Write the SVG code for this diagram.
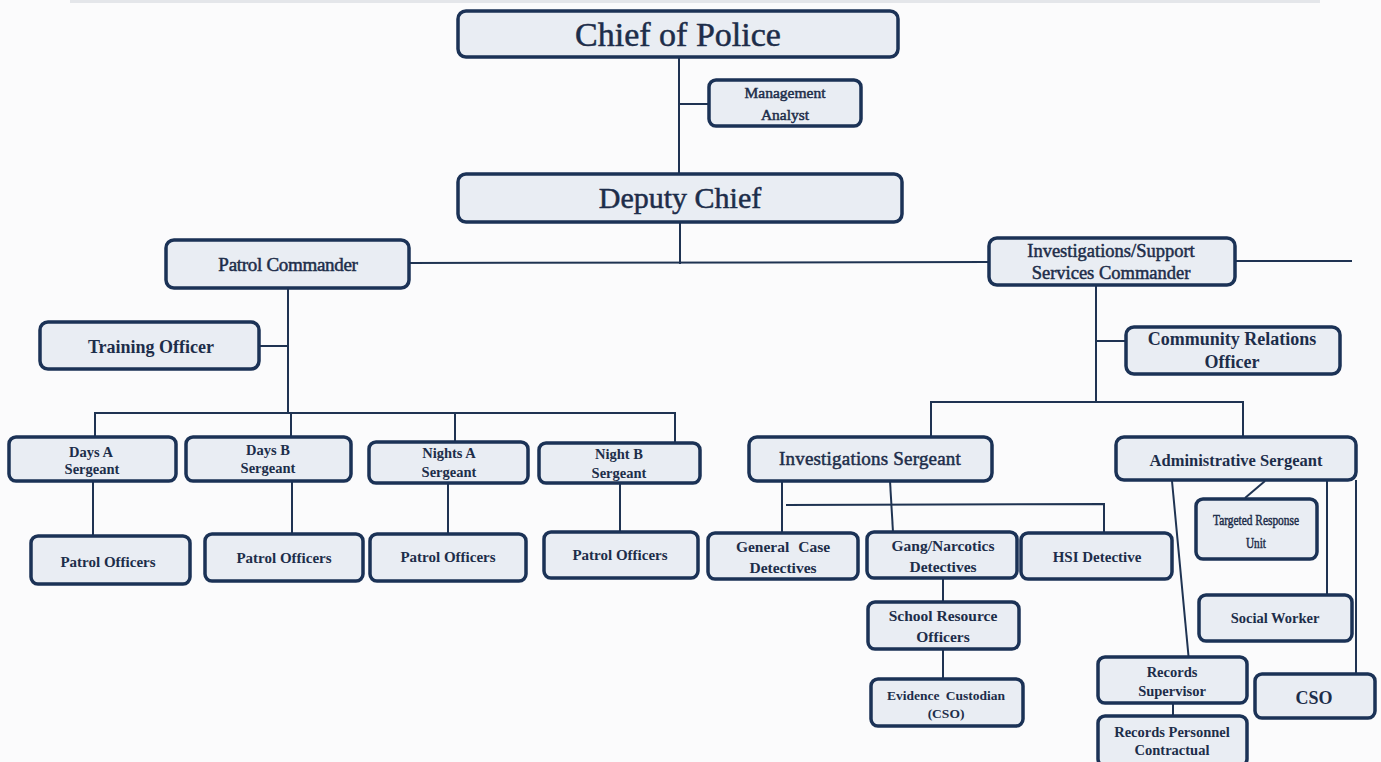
<svg xmlns="http://www.w3.org/2000/svg" width="1381" height="762" viewBox="0 0 1381 762">
<style>
.bx{fill:#e9edf3;stroke:#1b3256;stroke-width:3.5}
.t{font-family:"Liberation Serif","Times New Roman",serif;fill:#1d2d4a;text-anchor:middle}
.r{stroke:#1d2d4a;stroke-width:0.5}
.b{font-weight:bold}
.c line,.c polyline{stroke:#1f3352;stroke-width:2;fill:none}
</style>
<rect width="1381" height="762" fill="#fbfbfc"/>
<rect x="70" y="0" width="1250" height="3" fill="#e4e6ea"/>
<g class="c" id="connectors">
<line x1="679" y1="58" x2="679" y2="174"/>
<line x1="679" y1="104" x2="708" y2="104"/>
<line x1="680" y1="222" x2="680" y2="264"/>
<line x1="409" y1="263" x2="988" y2="262"/>
<line x1="1235" y1="261" x2="1352" y2="261"/>
<line x1="288" y1="288" x2="288" y2="413"/>
<line x1="259" y1="346" x2="289" y2="346"/>
<polyline points="95,437 95,413 675,413 675,442"/>
<line x1="291" y1="413" x2="291" y2="436"/>
<line x1="455" y1="413" x2="455" y2="441"/>
<line x1="93" y1="481" x2="93" y2="535"/>
<line x1="292" y1="481" x2="292" y2="533"/>
<line x1="448" y1="483" x2="448" y2="533"/>
<line x1="620" y1="483" x2="620" y2="531"/>
<line x1="1096" y1="285" x2="1096" y2="402"/>
<line x1="1096" y1="341" x2="1126" y2="341"/>
<polyline points="931,436 931,402 1243,402 1243,437"/>
<line x1="782" y1="481" x2="782" y2="533"/>
<line x1="890" y1="481" x2="893" y2="532"/>
<polyline points="786,505 1104,504 1104,532"/>
<line x1="943" y1="578" x2="943" y2="602"/>
<line x1="943" y1="649" x2="943" y2="678"/>
<line x1="1265" y1="481" x2="1245" y2="498"/>
<line x1="1327" y1="480" x2="1327" y2="594"/>
<line x1="1356" y1="480" x2="1356" y2="680"/>
<line x1="1172" y1="481" x2="1190" y2="672"/>
<line x1="1173" y1="703" x2="1173" y2="715"/>
</g>
<g id="chief"><rect class="bx" x="458" y="11" width="440" height="46" rx="8"/><text class="t r" x="678" y="46" font-size="34">Chief of Police</text></g>
<g id="analyst"><rect class="bx" x="709" y="80" width="152" height="46" rx="7"/><text class="t r" x="785" y="98" font-size="15.5">Management</text><text class="t r" x="785" y="120" font-size="15.5">Analyst</text></g>
<g id="deputy"><rect class="bx" x="458" y="174" width="444" height="48" rx="8"/><text class="t r" x="680" y="208" font-size="30">Deputy Chief</text></g>
<g id="patrolcmd"><rect class="bx" x="166" y="240" width="243" height="48" rx="8"/><text class="t r" x="288" y="271" font-size="19" letter-spacing="-0.3">Patrol Commander</text></g>
<g id="invcmd"><rect class="bx" x="989" y="238" width="246" height="47" rx="8"/><text class="t r" x="1111" y="257" font-size="18.5">Investigations/Support</text><text class="t r" x="1111" y="279" font-size="18.5">Services Commander</text></g>
<g id="training"><rect class="bx" x="40" y="322" width="219" height="47" rx="8"/><text class="t b" x="151" y="353" font-size="18">Training Officer</text></g>
<g id="community"><rect class="bx" x="1126" y="327" width="214" height="47" rx="8"/><text class="t b" x="1232" y="345" font-size="18">Community Relations</text><text class="t b" x="1232" y="368" font-size="18">Officer</text></g>
<g id="daysa"><rect class="bx" x="9" y="437" width="167" height="44" rx="7"/><text class="t b" x="91" y="457" font-size="14.5">Days A</text><text class="t b" x="92" y="474" font-size="14.5">Sergeant</text></g>
<g id="daysb"><rect class="bx" x="186" y="437" width="165" height="44" rx="7"/><text class="t b" x="268" y="455" font-size="14.5">Days B</text><text class="t b" x="268" y="473" font-size="14.5">Sergeant</text></g>
<g id="nightsa"><rect class="bx" x="369" y="442" width="159" height="41" rx="7"/><text class="t b" x="449" y="458" font-size="14.5">Nights A</text><text class="t b" x="449" y="477" font-size="14.5">Sergeant</text></g>
<g id="nightb"><rect class="bx" x="539" y="443" width="161" height="40" rx="7"/><text class="t b" x="619" y="459" font-size="14.5">Night B</text><text class="t b" x="619" y="478" font-size="14.5">Sergeant</text></g>
<g id="po1"><rect class="bx" x="31" y="536" width="159" height="48" rx="7"/><text class="t b" x="108" y="567" font-size="15">Patrol Officers</text></g>
<g id="po2"><rect class="bx" x="205" y="534" width="158" height="47" rx="7"/><text class="t b" x="284" y="563" font-size="15">Patrol Officers</text></g>
<g id="po3"><rect class="bx" x="370" y="534" width="156" height="47" rx="7"/><text class="t b" x="448" y="562" font-size="15">Patrol Officers</text></g>
<g id="po4"><rect class="bx" x="544" y="532" width="154" height="46" rx="7"/><text class="t b" x="620" y="560" font-size="15">Patrol Officers</text></g>
<g id="invsgt"><rect class="bx" x="749" y="437" width="243" height="44" rx="8"/><text class="t r" x="870" y="465" font-size="19" letter-spacing="0.2">Investigations Sergeant</text></g>
<g id="adminsgt"><rect class="bx" x="1116" y="437" width="240" height="43" rx="8"/><text class="t b" x="1236" y="466" font-size="16.5">Administrative Sergeant</text></g>
<g id="general"><rect class="bx" x="708" y="533" width="150" height="46" rx="7"/><text class="t b" x="783" y="552" font-size="15.5" word-spacing="5">General Case</text><text class="t b" x="783" y="573" font-size="15.5">Detectives</text></g>
<g id="gang"><rect class="bx" x="867" y="532" width="150" height="46" rx="7"/><text class="t b" x="943" y="551" font-size="15.5">Gang/Narcotics</text><text class="t b" x="943" y="572" font-size="15.5">Detectives</text></g>
<g id="hsi"><rect class="bx" x="1021" y="533" width="151" height="46" rx="7"/><text class="t b" x="1097" y="562" font-size="15">HSI Detective</text></g>
<g id="sro"><rect class="bx" x="868" y="602" width="151" height="47" rx="7"/><text class="t b" x="943" y="621" font-size="15.5">School Resource</text><text class="t b" x="943" y="642" font-size="15.5">Officers</text></g>
<g id="evidence"><rect class="bx" x="871" y="679" width="152" height="47" rx="7"/><text class="t b" x="946" y="700" font-size="13.5" word-spacing="3">Evidence Custodian</text><text class="t b" x="946" y="718" font-size="13.5">(CSO)</text></g>
<g id="targeted"><rect class="bx" x="1196" y="499" width="121" height="60" rx="7"/><text class="t r" x="1256" y="525" font-size="15" textLength="86" lengthAdjust="spacingAndGlyphs">Targeted Response</text><text class="t r" x="1256" y="548" font-size="15" textLength="20" lengthAdjust="spacingAndGlyphs">Unit</text></g>
<g id="social"><rect class="bx" x="1199" y="595" width="153" height="46" rx="7"/><text class="t b" x="1275" y="623" font-size="14.5">Social Worker</text></g>
<g id="cso"><rect class="bx" x="1255" y="674" width="120" height="44" rx="7"/><text class="t b" x="1314" y="704" font-size="18">CSO</text></g>
<g id="recsup"><rect class="bx" x="1098" y="657" width="149" height="46" rx="7"/><text class="t b" x="1172" y="677" font-size="14.5">Records</text><text class="t b" x="1172" y="696" font-size="14.5">Supervisor</text></g>
<g id="recpers"><rect class="bx" x="1098" y="716" width="149" height="50" rx="7"/><text class="t b" x="1172" y="737" font-size="14.5">Records Personnel</text><text class="t b" x="1172" y="755" font-size="14.5">Contractual</text></g>
</svg>
